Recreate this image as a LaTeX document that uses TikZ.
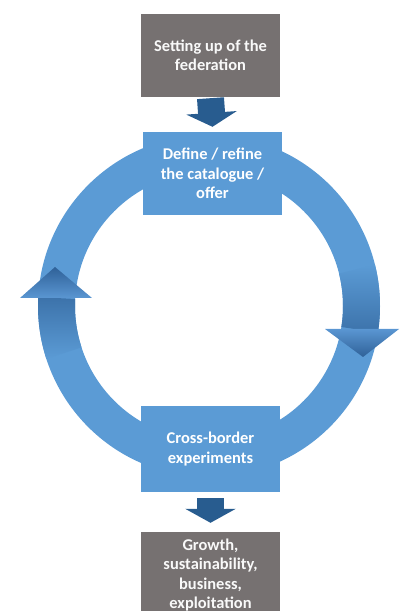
\documentclass[tikz,border=0pt]{standalone}
\usepackage{fontspec}
\setmainfont{Carlito}
\usetikzlibrary{arrows.meta}
\definecolor{ringblue}{HTML}{5B9BD5}
\definecolor{boxgray}{HTML}{767171}
\definecolor{darkblue}{HTML}{285C8F}
\definecolor{headtop}{HTML}{5A96D2}
\definecolor{headbot}{HTML}{2F6198}
\begin{document}
\begin{tikzpicture}[>=latex,line join=bevel,
  box/.style={draw=none,minimum width=139bp,minimum height=83bp,inner sep=0pt,
    align=center,font=\fontsize{16.5}{19.5}\selectfont\bfseries},
  flow/.style={line width=27bp,darkblue,-{Triangle[width=50bp,length=14bp]}},
]
\useasboundingbox (0bp,0bp) rectangle (400bp,611bp);
\clip (0bp,0bp) rectangle (400bp,611bp);
%%
\fill [ringblue,even odd rule] (209bp,305bp) circle[radius=171bp] (209bp,305bp) circle[radius=134bp];
  \shade [top color=ringblue,bottom color=headbot!70!ringblue] ([shift={(14:171bp)}]209bp,305bp) arc[start angle=14,end angle=-9,radius=171bp] -- ([shift={(-9:134bp)}]209bp,305bp) arc[start angle=-9,end angle=14,radius=134bp] -- cycle;
  \shade [top color=headbot!70!ringblue,bottom color=ringblue] ([shift={(177:171bp)}]209bp,305bp) arc[start angle=177,end angle=198,radius=171bp] -- ([shift={(198:134bp)}]209bp,305bp) arc[start angle=198,end angle=177,radius=134bp] -- cycle;
  \shade [top color=headtop,bottom color=headbot] (325bp,282bp) -- (399bp,282bp) -- (363bp,254bp) -- cycle;
  \shade [top color=headbot,bottom color=headtop] (20bp,313bp) -- (92bp,313bp) -- (55bp,344bp) -- cycle;
%%
\node (setup) at (210.5bp,555.5bp) [box,fill=boxgray,text=white!95!gray] {Setting up of the\\federation};
  \node (define) at (212.5bp,437.5bp) [box,fill=ringblue,text=white] {Define / refine\\the catalogue /\\offer};
  \node (cross) at (210.5bp,162bp) [box,minimum height=86bp,fill=ringblue,text=white] {Cross-border\\experiments};
  \node (growth) at (210.5bp,36bp) [box,minimum height=86bp,fill=boxgray,text=white!95!gray] {Growth,\\sustainability,\\business,\\exploitation};
  \draw [flow] ([yshift=-1bp]setup.south) -- ([yshift=5bp]define.north);
  \draw [flow] ([yshift=-6bp]cross.south) -- ([yshift=9bp]growth.north);
%
\end{tikzpicture}
\end{document}
